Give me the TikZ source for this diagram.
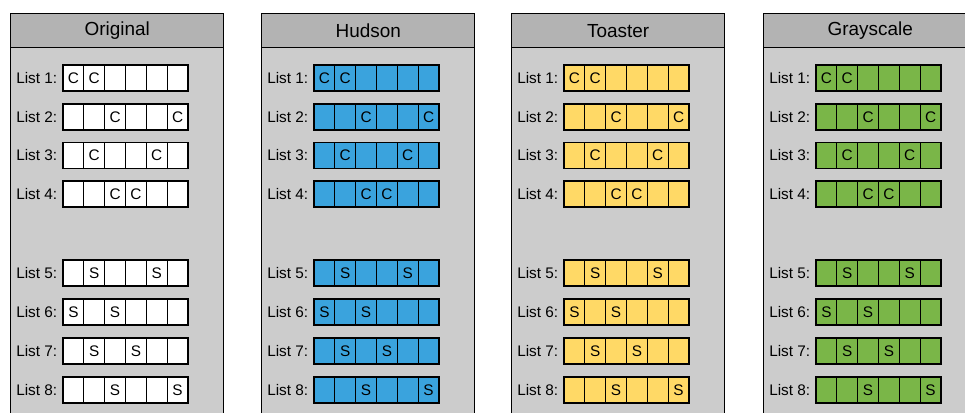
\documentclass[tikz,border=0pt]{standalone}
\usepackage{fontspec}
\setmainfont{Liberation Sans}
\definecolor{hdrgray}{RGB}{179,179,179}
\definecolor{bodygray}{RGB}{204,204,204}
\definecolor{hudsonblue}{RGB}{58,163,221}
\definecolor{toasteryellow}{RGB}{255,217,102}
\definecolor{grayscalegreen}{RGB}{122,182,72}
\begin{document}
\begin{tikzpicture}[x=0.75pt,y=-0.75pt,
  panel/.style={draw=black,fill=bodygray,line width=1.1pt,anchor=north west,inner sep=0pt,
    minimum width=159.75pt,minimum height=315pt},
  header/.style={draw=black,fill=hdrgray,line width=1.1pt,anchor=north west,inner sep=0pt,
    minimum width=159.75pt,minimum height=25.5pt,font=\fontsize{14.2}{16}\selectfont},
  lbl/.style={anchor=west,inner sep=0pt,font=\fontsize{11.5}{13}\selectfont},
  cell/.style={draw=black,line width=0.9pt,inner sep=0pt,minimum width=15.6pt,minimum height=19.5pt,
    font=\fontsize{11.5}{13}\selectfont}]
\clip (0,0) rectangle (965,412);
\fill[white] (0,0) rectangle (965,412);
\foreach \p/\name/\col/\title in {10/orig/white/Original, 261/hud/hudsonblue/Hudson, 511/toa/toasteryellow/Toaster, 763/gry/grayscalegreen/Grayscale} {
  \node[panel] (\name) at (\p,13) {};
  \node[header] (\name-h) at (\p,13) {\title};
  \foreach \r/\y/\a/\b/\L in {1/78/1/2/C, 2/117/3/6/C, 3/155.5/2/5/C, 4/194/3/4/C, 5/273/2/5/S, 6/312/1/3/S, 7/351/2/4/S, 8/390/3/6/S} {
    \node[lbl] (\name-l\r) at (\p+6,\y) {List \r:};
    \foreach \c in {1,...,6} {
      \node[cell,fill=\col] (\name-\r-\c) at ({\p+53+(\c-0.5)*20.83},\y) {\ifnum\c=\a \L\else\ifnum\c=\b \L\fi\fi};
    }
  }
}
\end{tikzpicture}
\end{document}
